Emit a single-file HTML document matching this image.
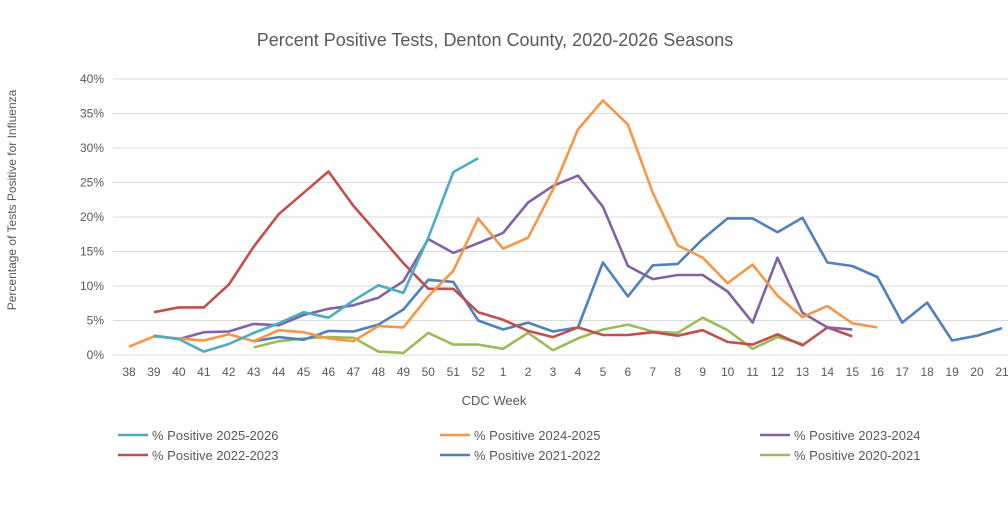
<!DOCTYPE html>
<html><head><meta charset="utf-8"><style>
body{margin:0;background:#fff;font-family:"Liberation Sans",sans-serif}
svg text{font-family:"Liberation Sans",sans-serif;fill:#595959}
</style></head><body>
<svg id="c" width="1008" height="509"></svg>
<script>
const weeks=["38","39","40","41","42","43","44","45","46","47","48","49","50","51","52","1","2","3","4","5","6","7","8","9","10","11","12","13","14","15","16","17","18","19","20","21"];
const yTicks=[0,5,10,15,20,25,30,35,40];
const s2526=[null,2.8,2.3,0.5,1.6,3.2,4.6,6.2,5.4,7.9,10.1,9.0,17.0,26.5,28.5];
const s2425=[1.2,2.7,2.4,2.1,3.0,2.0,3.6,3.3,2.4,2.0,4.2,4.0,8.5,12.2,19.8,15.4,17.0,24.0,32.7,36.9,33.4,23.5,15.9,14.1,10.4,13.1,8.6,5.5,7.1,4.6,4.0];
const s2324=[null,2.8,2.3,3.3,3.4,4.5,4.3,5.8,6.7,7.2,8.3,10.7,16.8,14.8,16.2,17.7,22.1,24.5,26.0,21.5,12.9,11.0,11.6,11.6,9.2,4.7,14.1,6.1,4.0,3.7];
const s2223=[null,6.2,6.9,6.9,10.2,15.7,20.4,23.5,26.6,21.6,17.5,13.3,9.6,9.6,6.2,5.1,3.5,2.6,4.0,2.9,2.9,3.3,2.8,3.6,1.9,1.5,3.0,1.4,4.0,2.7];
const s2122=[null,null,null,null,null,2.0,2.6,2.2,3.5,3.4,4.4,6.6,10.9,10.6,5.0,3.7,4.7,3.4,4.0,13.4,8.5,13.0,13.2,16.8,19.8,19.8,17.8,19.9,13.4,12.9,11.3,4.7,7.6,2.1,2.8,3.9];
const s2021=[null,null,null,null,null,1.1,2.0,2.4,2.6,2.5,0.5,0.3,3.2,1.5,1.5,0.9,3.2,0.7,2.4,3.7,4.4,3.4,3.2,5.4,3.6,0.9,2.6,1.6];
const seriesNames=["% Positive 2025-2026","% Positive 2024-2025","% Positive 2023-2024","% Positive 2022-2023","% Positive 2021-2022","% Positive 2020-2021"];
const seriesData=[s2526,s2425,s2324,s2223,s2122,s2021];
const colors=["#4bacc6","#f79646","#8064a2","#c0504d","#4f81bd","#9bbb59"];
const svg=document.getElementById('c');const NS="http://www.w3.org/2000/svg";
function el(t,a,p){const e=document.createElementNS(NS,t);for(const k in a)e.setAttribute(k,a[k]);(p||svg).appendChild(e);return e;}
const x0=129,dx=(1002-129)/35,y0=355,py=6.9;
const X=i=>x0+i*dx, Y=v=>y0-v*py;
let t=el('text',{x:495,y:46,'text-anchor':'middle','font-size':18});t.textContent="Percent Positive Tests, Denton County, 2020-2026 Seasons";


yTicks.forEach(v=>{const g=el('line',{x1:113,x2:1008,y1:Y(v),y2:Y(v),stroke:'#d9d9d9','stroke-width':1});


const l=el('text',{x:104,y:Y(v)+4,'text-anchor':'end','font-size':12});l.textContent=v+"%";

});
weeks.forEach((w,i)=>{const l=el('text',{x:X(i),y:376,'text-anchor':'middle','font-size':12});l.textContent=w;

});
t=el('text',{x:494,y:405,'text-anchor':'middle','font-size':13});t.textContent="CDC Week";


t=el('text',{x:0,y:0,'text-anchor':'middle','font-size':12,transform:'translate(16,200) rotate(-90)'});t.textContent="Percentage of Tests Positive for Influenza";


const order=[5,4,3,2,1,0];
order.forEach(k=>{const d=seriesData[k];let pts=[];d.forEach((v,i)=>{if(v!=null)pts.push(X(i).toFixed(1)+","+Y(v).toFixed(1));});
const p=el('polyline',{points:pts.join(" "),fill:'none',stroke:colors[k],'stroke-width':2.6,'stroke-linejoin':'round'});

});
const lx=[118,440,760],ly=[435,455];
seriesNames.forEach((n,k)=>{const cx=lx[k%3],cy=ly[Math.floor(k/3)];
const m=el('line',{x1:cx,x2:cx+30,y1:cy,y2:cy,stroke:colors[k],'stroke-width':2.6});


const l=el('text',{x:cx+34,y:cy+5,'font-size':13});l.textContent=n;

});
</script>
</body></html>
